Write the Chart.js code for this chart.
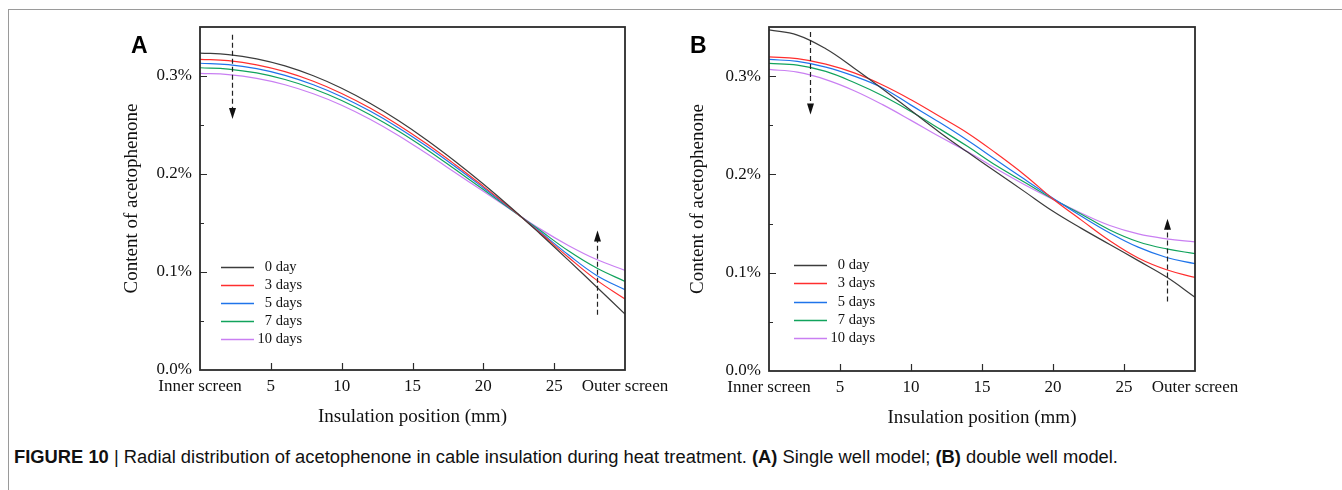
<!DOCTYPE html>
<html>
<head>
<meta charset="utf-8">
<script src="https://cdn.jsdelivr.net/npm/chart.js@4.4.1/dist/chart.umd.min.js"></script>
<style>
body{margin:0;width:1342px;height:490px;background:#fff;position:relative;overflow:hidden;font-family:"Liberation Serif",serif}
.box{position:absolute;top:0}
#boxA{left:100px;width:580px;height:440px}
#boxB{left:669px;width:581px;height:441px}
.tag{position:absolute;top:34px;font:bold 23px/23px "Liberation Sans",Arial,sans-serif;color:#000}
#frameTop{position:absolute;left:8px;top:9px;width:1334px;height:0;border-top:1.5px solid #9a9a9a}
#frameLeft{position:absolute;left:8px;top:9px;width:0;height:481px;border-left:1.5px solid #9a9a9a}
#caption{position:absolute;left:14px;top:446px;font:18.35px "Liberation Sans",Arial,sans-serif;white-space:nowrap;color:#111}
</style>
</head>
<body>
<div id="frameTop"></div>
<div id="frameLeft"></div>
<div class="box" id="boxA"><canvas id="chartA"></canvas></div>
<div class="box" id="boxB"><canvas id="chartB"></canvas></div>
<div class="tag" style="left:131px">A</div>
<div class="tag" style="left:690px">B</div>
<div id="caption"><b>FIGURE 10</b> | Radial distribution of acetophenone in cable insulation during heat treatment. <b>(A)</b> Single well model; <b>(B)</b> double well model.</div>
<script>
// insulation position, mm (0 = inner screen, 30 = outer screen)
var positionsMm = [0, 2, 4, 6, 8, 10, 12, 14, 16, 18, 20, 22, 24, 26, 28, 30];
var seriesNames = ['0 day', '3 days', '5 days', '7 days', '10 days'];
var xTickValues = [0, 5, 10, 15, 20, 25, 30];
var xTickLabels = ['Inner screen', '5', '10', '15', '20', '25', 'Outer screen'];

// content of acetophenone, % -- (A) single well model
var single0 = [0.3234, 0.3219, 0.3175, 0.3103, 0.3002, 0.2875, 0.2722, 0.2546, 0.2348, 0.2131, 0.1898, 0.1651, 0.1390, 0.1121, 0.0847, 0.0571];
var single3 = [0.3170, 0.3156, 0.3114, 0.3044, 0.2946, 0.2822, 0.2673, 0.2501, 0.2308, 0.2097, 0.1874, 0.1643, 0.1400, 0.1151, 0.0917, 0.0724];
var single5 = [0.3130, 0.3116, 0.3075, 0.3007, 0.2911, 0.2789, 0.2642, 0.2473, 0.2283, 0.2076, 0.1860, 0.1639, 0.1410, 0.1176, 0.0965, 0.0819];
var single7 = [0.3084, 0.3071, 0.3031, 0.2964, 0.2870, 0.2750, 0.2605, 0.2438, 0.2251, 0.2048, 0.1841, 0.1633, 0.1425, 0.1216, 0.1040, 0.0904];
var single10 = [0.3027, 0.3014, 0.2976, 0.2911, 0.2819, 0.2702, 0.2559, 0.2394, 0.2208, 0.2016, 0.1823, 0.1631, 0.1440, 0.1271, 0.1127, 0.1017];

// (B) double well model
var double0 = [0.3470, 0.3418, 0.3278, 0.3081, 0.2870, 0.2650, 0.2430, 0.2225, 0.2025, 0.1825, 0.1625, 0.1451, 0.1287, 0.1123, 0.0956, 0.0751];
var double3 = [0.3197, 0.3178, 0.3122, 0.3033, 0.2910, 0.2760, 0.2592, 0.2420, 0.2215, 0.1995, 0.1750, 0.1535, 0.1325, 0.1150, 0.1030, 0.0952];
var double5 = [0.3170, 0.3150, 0.3092, 0.3000, 0.2880, 0.2705, 0.2530, 0.2345, 0.2147, 0.1950, 0.1758, 0.1575, 0.1405, 0.1260, 0.1155, 0.1092];
var double7 = [0.3130, 0.3112, 0.3048, 0.2935, 0.2800, 0.2640, 0.2465, 0.2283, 0.2090, 0.1920, 0.1750, 0.1595, 0.1435, 0.1315, 0.1242, 0.1194];
var double10 = [0.3068, 0.3040, 0.2965, 0.2852, 0.2710, 0.2550, 0.2385, 0.2230, 0.2057, 0.1895, 0.1745, 0.1605, 0.1480, 0.1395, 0.1345, 0.1313];

// dashed trend arrows (position mm, from %, to %)
var arrowsA = [{x: 2.28, from: 0.342, to: 0.256}, {x: 28.0, from: 0.0563, to: 0.1423}];
var arrowsB = [{x: 2.89, from: 0.345, to: 0.261}, {x: 28.03, from: 0.0707, to: 0.1548}];

var lineColors = ['#3c3c3c', '#ff2e2e', '#1f74ea', '#11a35c', '#c97ff2'];
var serif = '"Liberation Serif", "Times New Roman", serif';

function isMajor(v) {
    return Math.abs(v * 10 - Math.round(v * 10)) < 1e-6;
}

var framePlugin = {
    id: 'frame',
    afterDatasetsDraw: function(chart, args, opts) {
        var ctx = chart.ctx, a = chart.chartArea;
        var x = chart.scales.x, y = chart.scales.y;
        ctx.save();
        ctx.strokeStyle = '#2b2b2b';
        ctx.lineWidth = 1.2;
        ctx.beginPath();
        x.ticks.forEach(function(t) {
            if (t.value <= x.min || t.value >= x.max) return;
            var px = Math.round(x.getPixelForValue(t.value)) + 0.5;
            ctx.moveTo(px, a.bottom);
            ctx.lineTo(px, a.bottom - 7);
        });
        y.ticks.forEach(function(t) {
            if (t.value <= y.min || t.value >= y.max - 1e-9) return;
            var py = Math.round(y.getPixelForValue(t.value)) + 0.5;
            ctx.moveTo(a.left, py);
            ctx.lineTo(a.left + (isMajor(t.value) ? 7 : 4), py);
        });
        ctx.stroke();
        ctx.lineWidth = 1.8;
        ctx.strokeRect(a.left, a.top, a.right - a.left, a.bottom - a.top);

        // arrows
        ctx.strokeStyle = '#222';
        ctx.fillStyle = '#111';
        ctx.lineWidth = 1.2;
        opts.arrows.forEach(function(ar) {
            var px = Math.round(x.getPixelForValue(ar.x)) + 0.5;
            var y1 = y.getPixelForValue(ar.from), y2 = y.getPixelForValue(ar.to);
            var dir = y2 > y1 ? 1 : -1;
            ctx.setLineDash([5, 3]);
            ctx.beginPath();
            ctx.moveTo(px, y1);
            ctx.lineTo(px, y2 - dir * 8);
            ctx.stroke();
            ctx.setLineDash([]);
            ctx.beginPath();
            ctx.moveTo(px, y2);
            ctx.lineTo(px - 3.5, y2 - dir * 11);
            ctx.lineTo(px + 3.5, y2 - dir * 11);
            ctx.closePath();
            ctx.fill();
        });

        // legend inside plot
        var lg = opts.legend;
        ctx.font = '14.5px ' + serif;
        ctx.textBaseline = 'middle';
        chart.data.datasets.forEach(function(ds, i) {
            var ry = Math.round(a.bottom - lg.bottom + i * lg.gap) + 0.5;
            ctx.strokeStyle = ds.borderColor;
            ctx.lineWidth = 1.5;
            ctx.beginPath();
            ctx.moveTo(a.left + lg.lineStart, ry);
            ctx.lineTo(a.left + lg.lineEnd, ry);
            ctx.stroke();
            var parts = ds.label.split(' ');
            ctx.fillStyle = '#111';
            ctx.textAlign = 'right';
            ctx.fillText(parts[0], a.left + lg.numRight, ry);
            ctx.textAlign = 'left';
            ctx.fillText(' ' + parts.slice(1).join(' '), a.left + lg.numRight, ry);
        });
        ctx.restore();
    }
};

function makeChart(id, series, arrows, legend, yTitlePad, xTitlePad) {
    var datasets = series.map(function(vals, i) {
        return {
            label: seriesNames[i],
            data: positionsMm.map(function(p, k) { return {x: p, y: vals[k]}; }),
            borderColor: lineColors[i],
            borderWidth: 1.2,
            pointRadius: 0,
            tension: 0.4,
            fill: false
        };
    });
    return new Chart(document.getElementById(id), {
        type: 'line',
        data: {datasets: datasets},
        options: {
            responsive: true,
            maintainAspectRatio: false,
            animation: false,
            layout: {padding: {top: 27, right: 55, left: 0, bottom: 0}},
            plugins: {
                legend: {display: false},
                tooltip: {enabled: false},
                frame: {arrows: arrows, legend: legend}
            },
            scales: {
                x: {
                    type: 'linear',
                    min: 0,
                    max: 30,
                    afterBuildTicks: function(scale) {
                        scale.ticks = xTickValues.map(function(v) { return {value: v}; });
                    },
                    afterFit: function(scale) { scale.height = 70; },
                    grid: {display: false, drawTicks: false},
                    border: {display: false},
                    ticks: {
                        autoSkip: false,
                        maxRotation: 0,
                        padding: 6,
                        color: '#111',
                        font: {family: serif, size: 17},
                        callback: function(v, i) { return xTickLabels[i]; }
                    },
                    title: {
                        display: true,
                        text: 'Insulation position (mm)',
                        color: '#111',
                        font: {family: serif, size: 19},
                        padding: {top: 0, bottom: xTitlePad}
                    }
                },
                y: {
                    min: 0,
                    max: 0.35,
                    afterFit: function(scale) { scale.width = 100; },
                    grid: {display: false, drawTicks: false},
                    border: {display: false},
                    ticks: {
                        stepSize: 0.05,
                        padding: 8,
                        color: '#111',
                        font: {family: serif, size: 17},
                        callback: function(v) { return isMajor(v) ? v.toFixed(1) + '%' : ''; }
                    },
                    title: {
                        display: true,
                        text: 'Content of acetophenone',
                        color: '#111',
                        font: {family: serif, size: 19},
                        padding: {top: yTitlePad, bottom: 0}
                    }
                }
            }
        },
        plugins: [framePlugin]
    });
}

makeChart('chartA', [single0, single3, single5, single7, single10], arrowsA,
    {lineStart: 21, lineEnd: 54, numRight: 72, bottom: 103, gap: 18}, 21, 12);
makeChart('chartB', [double0, double3, double5, double7, double10], arrowsB,
    {lineStart: 25, lineEnd: 58, numRight: 76, bottom: 106, gap: 18.3}, 18, 12);
</script>
</body>
</html>
